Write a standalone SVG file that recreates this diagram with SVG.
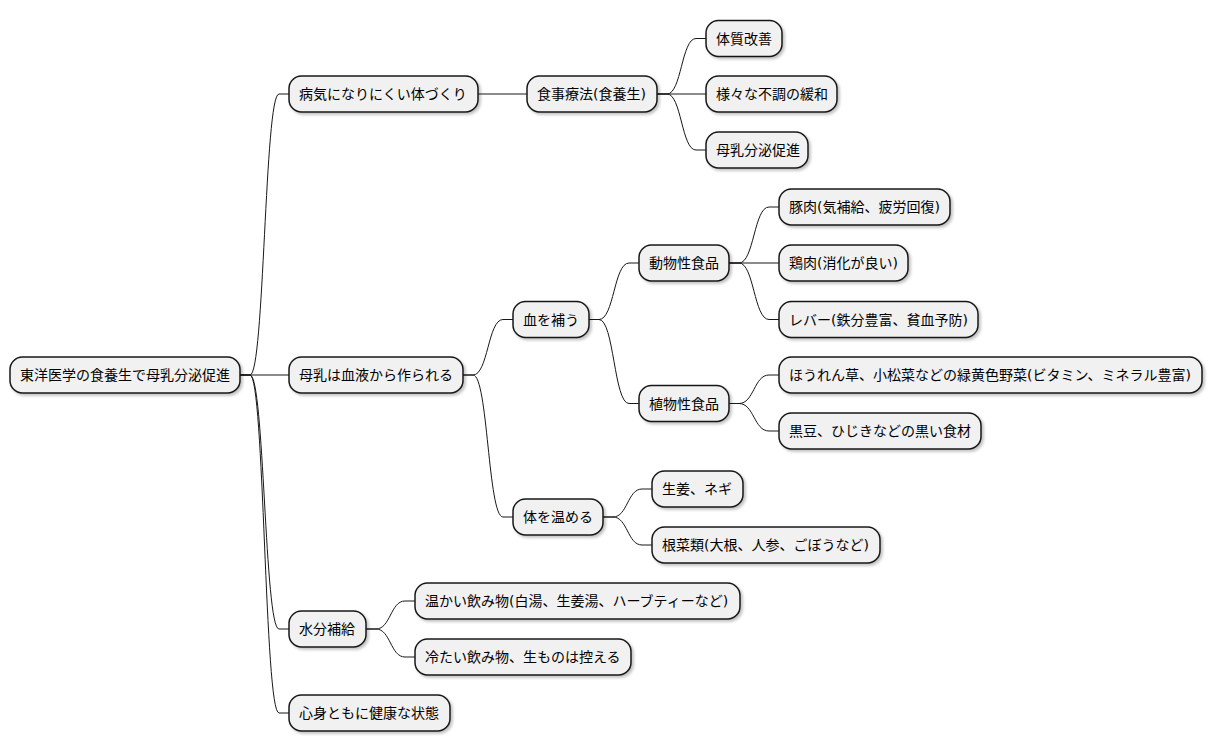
<svg xmlns="http://www.w3.org/2000/svg" width="1213" height="752" viewBox="0 0 1213 752">
<defs>
<filter id="sh" x="-10%" y="-20%" width="130%" height="160%">
<feGaussianBlur in="SourceAlpha" stdDeviation="1.5"/>
<feOffset dx="2" dy="2" result="b"/>
<feComponentTransfer><feFuncA type="linear" slope="0.25"/></feComponentTransfer>
<feMerge><feMergeNode/><feMergeNode in="SourceGraphic"/></feMerge>
</filter>
</defs>
<style>
.n rect{fill:#F1F1F1;stroke:#181818;stroke-width:1.5;filter:url(#sh)}
.n text{font-family:"DejaVu Sans","Noto Sans CJK JP",sans-serif;font-size:14px;fill:#000}
.e path{fill:none;stroke:#181818;stroke-width:1}
</style>
<rect width="1213" height="752" fill="#FFFFFF"/>
<g class="e" id="connectors">
<path d="M240,375 L250,375 C264.5,375 264.5,94 279,94 L289,94"/>
<path d="M240,375 L289,375"/>
<path d="M240,375 L250,375 C264.5,375 264.5,629 279,629 L289,629"/>
<path d="M240,375 L250,375 C264.5,375 264.5,713 279,713 L289,713"/>
<path d="M478,94 L527,94"/>
<path d="M657,94 L667,94 C681.5,94 681.5,38.5 696,38.5 L706,38.5"/>
<path d="M657,94 L706,94"/>
<path d="M657,94 L667,94 C681.5,94 681.5,150 696,150 L706,150"/>
<path d="M463,375 L473,375 C488,375 488,319.5 503,319.5 L513,319.5"/>
<path d="M463,375 L473,375 C488,375 488,517 503,517 L513,517"/>
<path d="M589,319.5 L599,319.5 C614,319.5 614,263 629,263 L639,263"/>
<path d="M589,319.5 L599,319.5 C614,319.5 614,403.5 629,403.5 L639,403.5"/>
<path d="M729,263 L739,263 C754,263 754,207 769,207 L779,207"/>
<path d="M729,263 L779,263"/>
<path d="M729,263 L739,263 C754,263 754,319.5 769,319.5 L779,319.5"/>
<path d="M729,403.5 L739,403.5 C754,403.5 754,375 769,375 L779,375"/>
<path d="M729,403.5 L739,403.5 C754,403.5 754,431 769,431 L779,431"/>
<path d="M603,517 L613,517 C627.5,517 627.5,489 642,489 L652,489"/>
<path d="M603,517 L613,517 C627.5,517 627.5,545 642,545 L652,545"/>
<path d="M366,629 L376,629 C390.5,629 390.5,601 405,601 L415,601"/>
<path d="M366,629 L376,629 C390.5,629 390.5,657 405,657 L415,657"/>
</g>
<g class="n" id="root"><rect x="10" y="357" width="230" height="36" rx="12.5"/><text x="20" y="380">東洋医学の食養生で母乳分泌促進</text></g>
<g class="n" id="n1"><rect x="289" y="76" width="189" height="36" rx="12.5"/><text x="299" y="99">病気になりにくい体づくり</text></g>
<g class="n" id="n1a"><rect x="527" y="76" width="130" height="36" rx="12.5"/><text x="537" y="99">食事療法(食養生)</text></g>
<g class="n" id="n1a1"><rect x="706" y="20.5" width="76" height="36" rx="12.5"/><text x="716" y="43.5">体質改善</text></g>
<g class="n" id="n1a2"><rect x="706" y="76" width="131" height="36" rx="12.5"/><text x="716" y="99">様々な不調の緩和</text></g>
<g class="n" id="n1a3"><rect x="706" y="132" width="102" height="36" rx="12.5"/><text x="716" y="155">母乳分泌促進</text></g>
<g class="n" id="n2"><rect x="289" y="357" width="174" height="36" rx="12.5"/><text x="299" y="380">母乳は血液から作られる</text></g>
<g class="n" id="n2a"><rect x="513" y="301.5" width="76" height="36" rx="12.5"/><text x="523" y="324.5">血を補う</text></g>
<g class="n" id="n2a1"><rect x="639" y="245" width="90" height="36" rx="12.5"/><text x="649" y="268">動物性食品</text></g>
<g class="n" id="n2a1a"><rect x="779" y="189" width="171" height="36" rx="12.5"/><text x="789" y="212">豚肉(気補給、疲労回復)</text></g>
<g class="n" id="n2a1b"><rect x="779" y="245" width="129" height="36" rx="12.5"/><text x="789" y="268">鶏肉(消化が良い)</text></g>
<g class="n" id="n2a1c"><rect x="779" y="301.5" width="199" height="36" rx="12.5"/><text x="789" y="324.5">レバー(鉄分豊富、貧血予防)</text></g>
<g class="n" id="n2a2"><rect x="639" y="385.5" width="90" height="36" rx="12.5"/><text x="649" y="408.5">植物性食品</text></g>
<g class="n" id="n2a2a"><rect x="779" y="357" width="423" height="36" rx="12.5"/><text x="789" y="380">ほうれん草、小松菜などの緑黄色野菜(ビタミン、ミネラル豊富)</text></g>
<g class="n" id="n2a2b"><rect x="779" y="413" width="202" height="36" rx="12.5"/><text x="789" y="436">黒豆、ひじきなどの黒い食材</text></g>
<g class="n" id="n2b"><rect x="513" y="499" width="90" height="36" rx="12.5"/><text x="523" y="522">体を温める</text></g>
<g class="n" id="n2b1"><rect x="652" y="471" width="91" height="36" rx="12.5"/><text x="662" y="494">生姜、ネギ</text></g>
<g class="n" id="n2b2"><rect x="652" y="527" width="228" height="36" rx="12.5"/><text x="662" y="550">根菜類(大根、人参、ごぼうなど)</text></g>
<g class="n" id="n3"><rect x="289" y="611" width="77" height="36" rx="12.5"/><text x="299" y="634">水分補給</text></g>
<g class="n" id="n3a"><rect x="415" y="583" width="325" height="36" rx="12.5"/><text x="425" y="606">温かい飲み物(白湯、生姜湯、ハーブティーなど)</text></g>
<g class="n" id="n3b"><rect x="415" y="639" width="216" height="36" rx="12.5"/><text x="425" y="662">冷たい飲み物、生ものは控える</text></g>
<g class="n" id="n4"><rect x="289" y="695" width="161" height="36" rx="12.5"/><text x="299" y="718">心身ともに健康な状態</text></g>
</svg>
